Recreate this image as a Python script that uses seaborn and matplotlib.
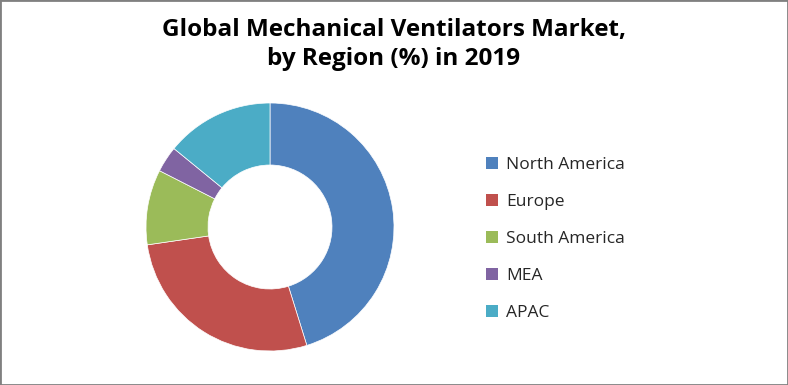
import matplotlib
matplotlib.use("Agg")
import matplotlib.pyplot as plt
import seaborn as sns
from matplotlib.patches import Rectangle, Patch

# Data
regions = ["North America", "Europe", "South America", "MEA", "APAC"]
shares = [45.2, 27.5, 9.8, 3.4, 14.1]
colors = ["#4F81BD", "#C0504D", "#9BBB59", "#8064A2", "#4BACC6"]

sns.set_theme(style="white")
plt.rcParams["font.family"] = ["Open Sans", "DejaVu Sans"]
palette = sns.color_palette(colors)

W, H = 788, 385
fig = plt.figure(figsize=(W / 100, H / 100), dpi=100)

# Donut: centre (270, 227) px, outer radius 124 px
cx, cy, r = 270, 227, 124
ax = fig.add_axes([(cx - r) / W, (H - cy - r) / H, 2 * r / W, 2 * r / H])
wedges, _ = ax.pie(shares, colors=palette, startangle=90, counterclock=False,
                   radius=1.0,
                   wedgeprops=dict(width=0.5, edgecolor="white", linewidth=0.5))
ax.set_xlim(-1, 1)
ax.set_ylim(-1, 1)
ax.set_aspect("equal")
ax.axis("off")

fig.text(0.5, 1 - 30 / H, "Global Mechanical Ventilators Market,",
         ha="center", va="center", fontsize=17.5, fontweight="bold", color="black")
fig.text(0.5, 1 - 59 / H, "by Region (%) in 2019",
         ha="center", va="center", fontsize=17.5, fontweight="bold", color="black")

handles = [Patch(facecolor=c, edgecolor="none") for c in palette]
fig.legend(handles, regions, loc="upper left",
           bbox_to_anchor=(479 / W, 1 - 150 / H), frameon=False,
           fontsize=12.5, handlelength=0.7, handleheight=0.7, handletextpad=0.45,
           labelspacing=1.2, borderaxespad=0)

fig.add_artist(Rectangle((0, 0), 1, 1, transform=fig.transFigure, fill=False,
                         edgecolor="#808080", linewidth=2))

fig.savefig("out.png", dpi=100, facecolor="white")
